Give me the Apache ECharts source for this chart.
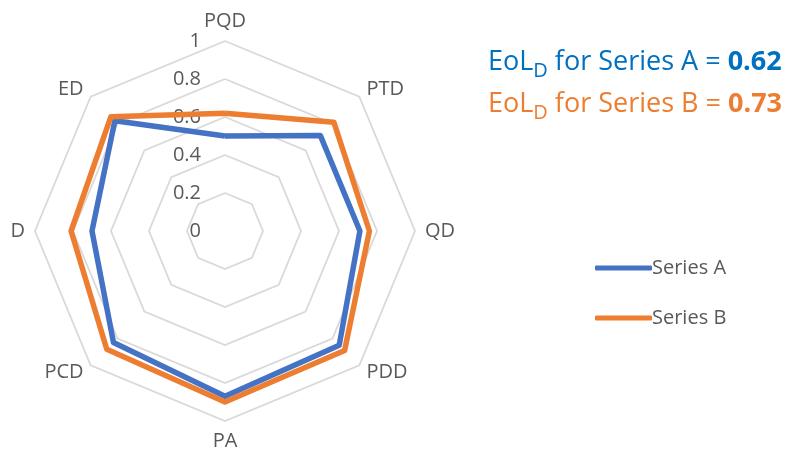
<!DOCTYPE html>
<html><head><meta charset="utf-8">
<script src="https://cdn.jsdelivr.net/npm/echarts@6/dist/echarts.min.js"></script>
<style>html,body{margin:0;padding:0;background:#fff}#c{width:795px;height:460px}</style>
</head><body><div id="c"></div>
<script>
// Indicators in ECharts order (counter-clockwise from top)
const indicators = ['PQD', 'ED', 'D', 'PCD', 'PA', 'PDD', 'QD', 'PTD'];
const seriesA = [0.50, 0.82, 0.70, 0.83, 0.87, 0.85, 0.71, 0.71];
const seriesB = [0.62, 0.85, 0.81, 0.88, 0.90, 0.89, 0.76, 0.81];
const seriesNames = ['Series A', 'Series B'];
const eolValues = ['0.62', '0.73'];

const FONT = '"Open Sans", sans-serif';
const TITLE_COLORS = ['#0070C0', '#ED7D31'];
const chart = echarts.init(document.getElementById('c'));
chart.setOption({
  animation: false,
  color: ['#4472C4', '#ED7D31'],
  legend: {
    orient: 'vertical',
    left: 590, top: 253,
    itemWidth: 57, itemHeight: 5, itemGap: 30,
    icon: 'roundRect',
    data: seriesNames,
    textStyle: { fontFamily: FONT, fontSize: 20, color: '#595959', padding: [0, 0, 0, -5] }
  },
  radar: {
    center: [225, 231],
    radius: 190,
    shape: 'polygon',
    splitNumber: 5,
    startAngle: 90,
    indicator: indicators.map((n, i) => i === 0
      ? { name: n, min: 0, max: 1, axisLabel: { show: true } }
      : { name: n, min: 0, max: 1 }),
    axisName: { color: '#595959', fontFamily: FONT, fontSize: 20 },
    nameGap: 10,
    splitLine: { lineStyle: { color: '#D9D9D9', width: 1.8 } },
    splitArea: { show: false },
    axisLine: { show: false },
    axisTick: { show: false },
    axisLabel: {
      show: false, color: '#595959', fontFamily: FONT, fontSize: 20, margin: 24,
      formatter: v => String(+v.toFixed(1))
    }
  },
  series: [{
    type: 'radar',
    symbol: 'none',
    data: [
      { name: seriesNames[0], value: seriesA, lineStyle: { width: 5.5, color: '#4472C4', join: 'round' } },
      { name: seriesNames[1], value: seriesB, lineStyle: { width: 5.5, color: '#ED7D31', join: 'round' } }
    ]
  }],
  graphic: [0, 1].map(i => ({
    type: 'text',
    left: 488, top: 49 + i * 42,
    style: {
      text: '{a|EoL}{s|D}{a| for ' + seriesNames[i] + ' = }{b|' + eolValues[i] + '}',
      rich: {
        a: { fontFamily: FONT, fontSize: 27, fill: TITLE_COLORS[i] },
        s: { fontFamily: FONT, fontSize: 20, fill: TITLE_COLORS[i], padding: [18, 0, 0, 0] },
        b: { fontFamily: FONT, fontSize: 27, fontWeight: 'bold', fill: TITLE_COLORS[i] }
      }
    }
  }))
});
</script></body></html>
